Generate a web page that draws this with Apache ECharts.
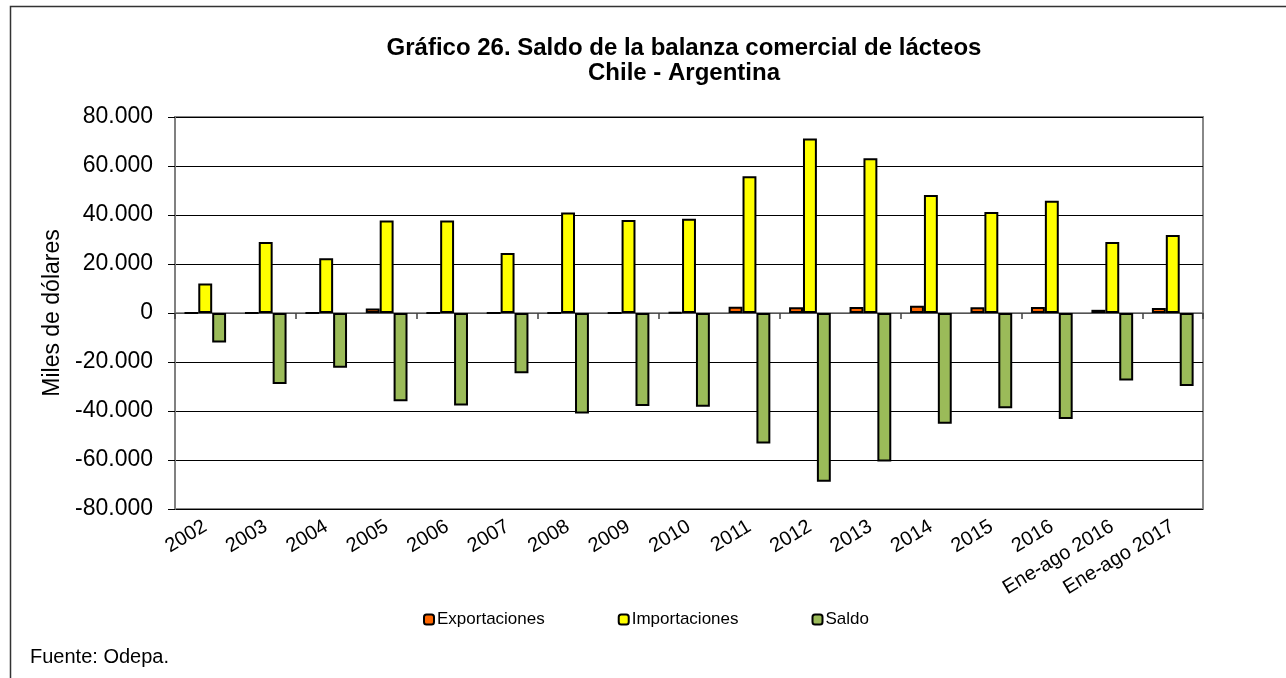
<!DOCTYPE html>
<html><head><meta charset="utf-8">
<script src="https://cdn.jsdelivr.net/npm/echarts@6/dist/echarts.min.js"></script>
<style>html,body{margin:0;padding:0;background:#fff}#c{width:1286px;height:678px}</style>
</head><body><div id="c"></div>
<script>
const categories = ['2002','2003','2004','2005','2006','2007','2008','2009','2010','2011','2012','2013','2014','2015','2016','Ene-ago 2016','Ene-ago 2017'];
const exportaciones = [100, 100, 100, 1800, 100, 0, 100, 0, 300, 2600, 2300, 2500, 3000, 2300, 2500, 1300, 2000];
const importaciones = [12000, 29000, 22300, 37800, 37800, 24500, 41000, 38000, 38500, 55800, 71200, 63200, 48200, 41200, 45800, 29000, 31800];
const saldo = [-12000, -29000, -22300, -36000, -37800, -24600, -41000, -38000, -38300, -53300, -68900, -60600, -45200, -38900, -43300, -27600, -29800];
const yMin = -80000, yMax = 80000, yStep = 20000;
const titleLines = ['Gráfico 26. Saldo de la balanza comercial de lácteos', 'Chile - Argentina'];

const FONT = '"Liberation Sans", Arial, sans-serif';
function fmt(v){
  const s = String(Math.abs(v)).replace(/\B(?=(\d{3})+(?!\d))/g, '.');
  return (v < 0 ? '-' : '') + s;
}
const chart = echarts.init(document.getElementById('c'), null, {renderer:'canvas'});
const barStyle = c => ({color: c, borderColor: '#000', borderWidth: 2});
chart.setOption({
  animation: false,
  backgroundColor: '#fff',
  textStyle: {fontFamily: FONT, color: '#000'},
  legend: {
    top: 611, left: 423, padding: 0,
    itemWidth: 10, itemHeight: 10, itemGap: 73,
    textStyle: {fontFamily: FONT, fontSize: 17, color: '#000', padding: [0,0,0,-2]},
    data: ['Exportaciones','Importaciones','Saldo']
  },
  grid: {left: 175, right: 83, top: 117, bottom: 169, show: true, borderColor: '#888', borderWidth: 2, containLabel: false},
  xAxis: [
    {type: 'category', data: categories, position: 'bottom',
     axisLine: {onZero: true, lineStyle: {color: '#707070', width: 1.5}},
     axisTick: {show: true, length: 6, lineStyle: {color: '#404040', width: 1.5}},
     axisLabel: {show: false}},
    {type: 'category', data: categories, position: 'bottom',
     axisLine: {show: false, onZero: false}, axisTick: {show: false},
     axisLabel: {rotate: 31, fontSize: 20, margin: 16, color: '#000', fontFamily: FONT}}
  ],
  yAxis: {
    type: 'value', min: yMin, max: yMax, interval: yStep,
    axisLine: {show: true, lineStyle: {color: '#808080', width: 2}},
    axisTick: {show: true, length: 7, lineStyle: {color: '#000', width: 1}},
    splitLine: {show: true, lineStyle: {color: '#000', width: 1}},
    axisLabel: {formatter: fmt, fontSize: 23, margin: 22, color: '#000', fontFamily: FONT},
    name: 'Miles de dólares', nameLocation: 'middle', nameRotate: 90, nameGap: 111,
    nameTextStyle: {fontSize: 23, color: '#000', fontFamily: FONT}
  },
  series: [
    {name: 'Exportaciones', type: 'bar', xAxisIndex: 0, data: exportaciones, barGap: '0%', barCategoryGap: '31%', itemStyle: barStyle('#FF6600')},
    {name: 'Importaciones', type: 'bar', xAxisIndex: 0, data: importaciones, barGap: '0%', barCategoryGap: '31%', itemStyle: barStyle('#FFFF00')},
    {name: 'Saldo', type: 'bar', xAxisIndex: 0, data: saldo, barGap: '0%', barCategoryGap: '31%', itemStyle: barStyle('#9BBB59')}
  ],
  graphic: [
    {type: 'polyline', shape: {points: [[10.5, 678], [10.5, 6.5], [1286, 6.5]]}, style: {stroke: '#333', lineWidth: 1.5, fill: null}},
    {type: 'text', x: 684, y: 48, style: {text: titleLines[0], fontSize: 24, fontWeight: 'bold', fontFamily: FONT, fill: '#000', align: 'center', verticalAlign: 'middle'}},
    {type: 'text', x: 684, y: 73, style: {text: titleLines[1], fontSize: 24, fontWeight: 'bold', fontFamily: FONT, fill: '#000', align: 'center', verticalAlign: 'middle'}},
    {type: 'text', left: 30, top: 647, style: {text: 'Fuente: Odepa.', fontSize: 20, fontFamily: FONT, fill: '#000'}}
  ]
});
</script>
</body></html>
